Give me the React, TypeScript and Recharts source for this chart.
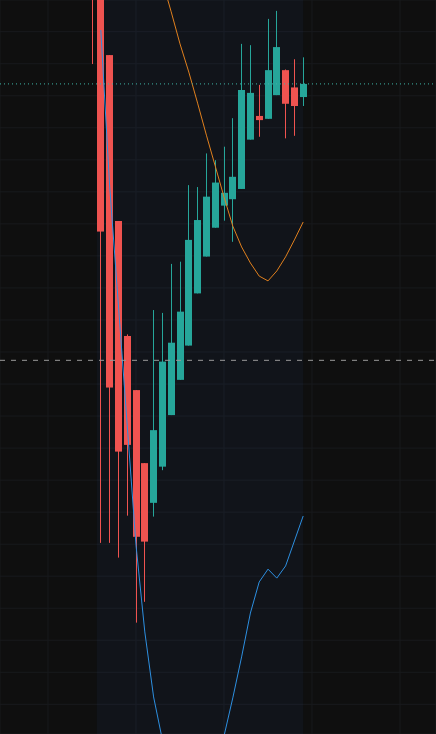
import { ComposedChart, Bar, Line, XAxis, YAxis, CartesianGrid, ReferenceLine, ReferenceArea } from 'recharts';

// candles (price units, arbitrary scale)
const opens = [74.74, 71.55, 69.27, 64.09, 60.5, 58.81, 56.53, 55.29, 56.42, 58.03, 59.13, 60.2, 61.83, 62.98, 63.88, 64.57, 64.77, 65.09, 66.63, 67.37, 67.28, 68.02, 68.8, 68.26, 67.96];
const highs = [75.67, 71.7, 69.27, 64.09, 60.55, 58.81, 56.53, 61.31, 61.22, 62.75, 62.82, 65.21, 65.15, 66.2, 65.99, 66.41, 67.3, 69.62, 69.58, 68.34, 70.4, 70.65, 68.82, 69.14, 69.2];
const lows = [68.99, 54.04, 54.04, 53.58, 54.89, 51.55, 52.2, 54.86, 56.31, 58.03, 59.13, 60.2, 61.83, 62.98, 63.88, 64.1, 63.44, 65.09, 66.63, 66.72, 67.28, 68.02, 66.67, 66.75, 67.68];
const closes = [71.61, 63.76, 58.89, 56.89, 57.1, 54.23, 54.08, 57.56, 59.7, 60.29, 61.26, 63.5, 64.12, 64.85, 65.29, 64.97, 65.47, 68.18, 68.09, 67.24, 68.8, 69.52, 67.75, 67.68, 68.37];

// orange average and blue lower line
const avgLine = [null, null, null, null, null, 74.74, 73.64, 72.61, 71.58, 70.62, 69.62, 68.74, 67.77, 66.77, 65.81, 64.84, 63.93, 63.28, 62.78, 62.37, 62.22, 62.53, 62.97, 63.5, 64.06];
const lowerLine = [null, 70.05, 65.21, 61.47, 57.72, 53.97, 51.26, 49.23, 47.89, 46.95, 46.33, 46.01, 46.01, 46.33, 47.01, 48.01, 49.2, 50.48, 51.85, 52.82, 53.22, 52.94, 53.32, 54.1, 54.88];

const lastPrice = 68.37;
const dashedLevel = 59.74;
const shadeFrom = 0.55;
const shadeTo = 24;

const xTicks = [-5, 5, 15, 25, 35];
const yTicks = [49, 50, 51, 52, 53, 54, 55, 56, 57, 58, 59, 60, 61, 62, 63, 64, 65, 66, 67, 68, 69, 70];

const UP = '#26a69a';
const DOWN = '#ef5350';

const data = opens.map((o, i) => ({
  i,
  open: o,
  high: highs[i],
  low: lows[i],
  close: closes[i],
  avg: avgLine[i],
  lower: lowerLine[i],
}));

const Candle = (props: any) => {
  const { x, y, width, height, payload } = props;
  if (!payload || payload.open == null) return null;
  const { open, close, high, low } = payload;
  const color = close >= open ? UP : DOWN;
  const unit = height / (high - low);
  const top = y + (high - Math.max(open, close)) * unit;
  const bot = y + (high - Math.min(open, close)) * unit;
  const bx = Math.round(x);
  const cx = bx + Math.floor(width / 2) + 0.5;
  return (
    <g>
      <line x1={cx} x2={cx} y1={y} y2={y + height} stroke={color} strokeWidth={1} />
      <rect x={bx} y={top} width={width} height={Math.max(bot - top, 1)} fill={color} />
    </g>
  );
};

export default function App() {
  return (
    <div style={{ position: 'absolute', left: 0, top: 0, width: 436, height: 734, background: '#0f0f0f' }}>
      <ComposedChart width={436} height={734} data={data} margin={{ top: 0, right: 0, bottom: 0, left: 0 }}>
        <XAxis
          type="number"
          dataKey="i"
          domain={[-10.4545, 39.0909]}
          ticks={xTicks}
          allowDataOverflow
          hide
        />
        <YAxis domain={[48.073, 70.99]} ticks={yTicks} allowDataOverflow hide />
        <CartesianGrid stroke="#181a1d" strokeWidth={1} />
        <ReferenceArea x1={shadeFrom} x2={shadeTo} fill="rgb(40,80,140)" fillOpacity={0.09} stroke="none" />
        <Line dataKey="lower" stroke="#2d8fe0" strokeWidth={1} dot={false} isAnimationActive={false} />
        <Line dataKey="avg" stroke="#e0801e" strokeWidth={1} dot={false} isAnimationActive={false} />
        <Bar
          dataKey={(d: any) => [d.low, d.high]}
          barSize={7}
          shape={Candle}
          isAnimationActive={false}
        />
        <ReferenceLine y={lastPrice} stroke="#3fb3a6" strokeDasharray="1 3" />
        <ReferenceLine y={dashedLevel} stroke="#9a9a9a" strokeDasharray="5 6" />
      </ComposedChart>
    </div>
  );
}
